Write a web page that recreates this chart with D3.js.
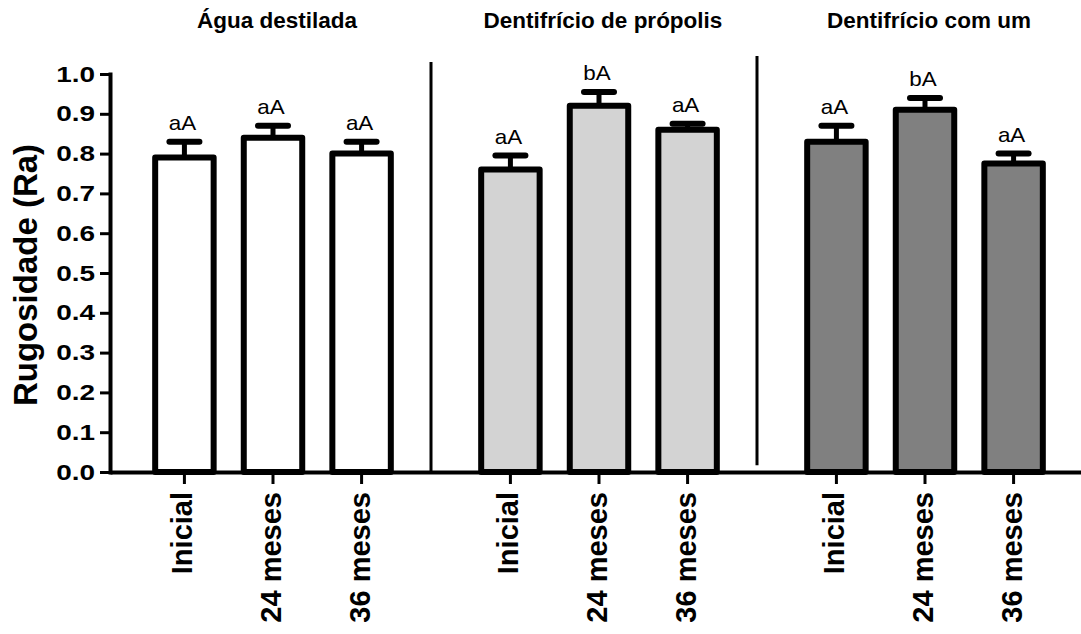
<!DOCTYPE html>
<html>
<head>
<meta charset="utf-8">
<script src="https://cdn.jsdelivr.net/npm/d3@7"></script>
<style>
  html, body { margin: 0; padding: 0; background: #fff; }
  svg { display: block; }
  text { font-family: "Liberation Sans", Arial, sans-serif; fill: #000; }
</style>
</head>
<body>
<svg id="chart" width="1081" height="634"></svg>
<script>
// Roughness (Ra) per treatment group and time point
const groups = ["Água destilada", "Dentifrício de própolis", "Dentifrício com um"];
const times = ["Inicial", "24 meses", "36 meses"];
const groupFills = ["#ffffff", "#d3d3d3", "#808080"];

const aguaMeans = [0.79, 0.84, 0.80];
const aguaErr = [0.04, 0.03, 0.03];
const aguaLetters = ["aA", "aA", "aA"];

const propolisMeans = [0.76, 0.92, 0.86];
const propolisErr = [0.035, 0.035, 0.015];
const propolisLetters = ["aA", "bA", "aA"];

const comumMeans = [0.83, 0.91, 0.775];
const comumErr = [0.04, 0.03, 0.025];
const comumLetters = ["aA", "bA", "aA"];

const yTicks = [0, 0.1, 0.2, 0.3, 0.4, 0.5, 0.6, 0.7, 0.8, 0.9, 1.0];
const yTitle = "Rugosidade (Ra)";

const series = [
  { means: aguaMeans, err: aguaErr, letters: aguaLetters },
  { means: propolisMeans, err: propolisErr, letters: propolisLetters },
  { means: comumMeans, err: comumErr, letters: comumLetters }
];

const rows = [];
series.forEach((s, gi) => {
  times.forEach((t, ti) => {
    rows.push({ group: groups[gi], gi, time: t, mean: s.means[ti], err: s.err[ti], letter: s.letters[ti] });
  });
});

const svg = d3.select("#chart");
const plotLeft = 110, plotBottom = 472, plotTop = 74;

const y = d3.scaleLinear().domain([0, 1]).range([plotBottom, plotTop]);
const outer = d3.scaleBand().domain(groups).range([plotLeft, 1088]).padding(0);
const inner = d3.scaleBand().domain(times).range([0, outer.bandwidth()])
  .paddingInner(0.34).paddingOuter(0.51);

const xCenter = d => outer(d.group) + inner(d.time) + inner.bandwidth() / 2;

// group separators
const dividerSpans = [[0, 1.03], [0.017, 1.045]];
svg.append("g").selectAll("line")
  .data(groups.slice(0, -1))
  .join("line")
  .attr("x1", g => outer(g) + outer.bandwidth() - 5)
  .attr("x2", g => outer(g) + outer.bandwidth() - 5)
  .attr("y1", (g, i) => y(dividerSpans[i][1]))
  .attr("y2", (g, i) => y(dividerSpans[i][0]))
  .attr("stroke", "#000").attr("stroke-width", 3);

// error bars
const eb = svg.append("g");
eb.selectAll("line.whisker")
  .data(rows).join("line").attr("class", "whisker")
  .attr("x1", xCenter).attr("x2", xCenter)
  .attr("y1", d => y(d.mean)).attr("y2", d => y(d.mean + d.err))
  .attr("stroke", "#000").attr("stroke-width", 5);
eb.selectAll("line.cap")
  .data(rows).join("line").attr("class", "cap")
  .attr("x1", d => xCenter(d) - 15).attr("x2", d => xCenter(d) + 15)
  .attr("y1", d => y(d.mean + d.err)).attr("y2", d => y(d.mean + d.err))
  .attr("stroke", "#000").attr("stroke-width", 6).attr("stroke-linecap", "round");

// bars
svg.append("g").selectAll("rect")
  .data(rows).join("rect")
  .attr("x", d => outer(d.group) + inner(d.time))
  .attr("width", inner.bandwidth())
  .attr("y", d => y(d.mean))
  .attr("height", d => y(0) - y(d.mean))
  .attr("fill", d => groupFills[d.gi])
  .attr("stroke", "#000").attr("stroke-width", 6)
  .attr("stroke-linejoin", "round");

// significance letters
svg.append("g").selectAll("text")
  .data(rows).join("text")
  .attr("transform", d => `translate(${xCenter(d) - 2},${y(d.mean + d.err) - 12}) scale(1.12,1)`)
  .attr("text-anchor", "middle")
  .style("font-size", "20px")
  .text(d => d.letter);

// y axis
const yAxis = svg.append("g")
  .attr("transform", `translate(${plotLeft},0)`)
  .call(d3.axisLeft(y).tickValues(yTicks).tickSize(10).tickSizeOuter(0).tickFormat(d3.format(".1f")));
yAxis.select(".domain").attr("stroke-width", 4).attr("stroke-linecap", "square");
yAxis.selectAll(".tick line").attr("stroke-width", 3);
yAxis.selectAll(".tick text")
  .attr("x", -15 / 1.27)
  .attr("transform", "scale(1.27,1)")
  .style("font-size", "22px").style("font-weight", "bold");

// x axis baseline
const xBase = svg.append("g")
  .attr("transform", `translate(0,${plotBottom})`)
  .call(d3.axisBottom(outer).tickValues([]).tickSizeOuter(0));
xBase.select(".domain").attr("stroke-width", 4);

// per-group category ticks and labels
groups.forEach(g => {
  const ax = svg.append("g")
    .attr("transform", `translate(${outer(g)},${plotBottom})`)
    .call(d3.axisBottom(inner).tickSize(12).tickSizeOuter(0));
  ax.select(".domain").remove();
  ax.selectAll(".tick line").attr("stroke-width", 3);
  ax.selectAll(".tick text")
    .attr("text-anchor", "end")
    .attr("dy", null)
    .attr("y", 0)
    .attr("transform", "translate(8,20) rotate(-90)")
    .style("font-size", "29px").style("font-weight", "bold");
});

// group titles
svg.append("g").selectAll("text")
  .data(groups).join("text")
  .attr("x", g => outer(g) + outer.bandwidth() / 2 + 4)
  .attr("y", 28)
  .attr("text-anchor", "middle")
  .style("font-size", "22.5px").style("font-weight", "bold")
  .text(g => g);

// y axis title
svg.append("text")
  .attr("transform", `translate(37,${(143 + 407) / 2}) rotate(-90)`)
  .attr("text-anchor", "middle")
  .style("font-size", "33px").style("font-weight", "bold")
  .text(yTitle);
</script>
</body>
</html>
